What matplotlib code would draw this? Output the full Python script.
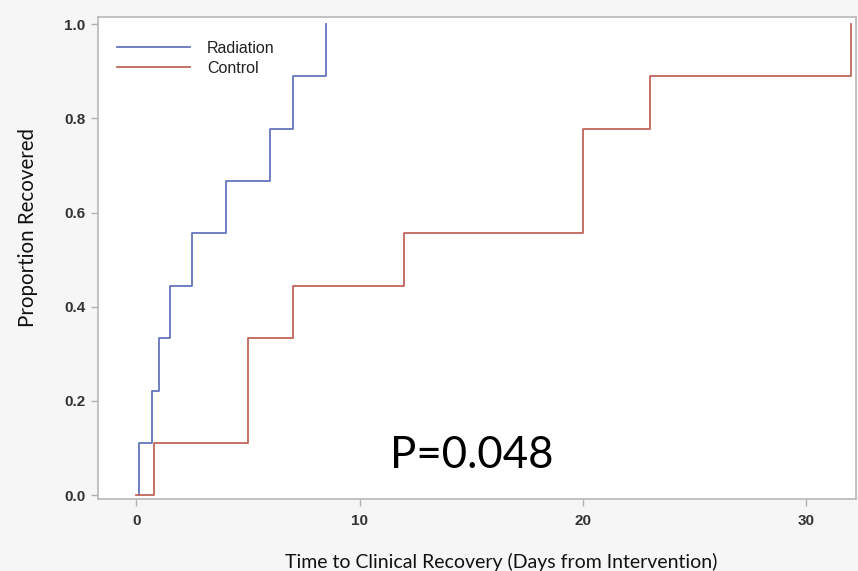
import matplotlib
matplotlib.use("Agg")
import matplotlib.pyplot as plt
import numpy as np

# Data (Kaplan-Meier style step curves, proportion recovered)
rad_times = [0.1, 0.1, 0.7, 1.0, 1.5, 2.5, 4.0, 6.0, 7.0, 8.5]
rad_props = [0, 1/9, 2/9, 3/9, 4/9, 5/9, 6/9, 7/9, 8/9, 1.0]
ctl_times = [0.0, 0.8, 5.0, 7.0, 12.0, 20.0, 23.0, 32.0]
ctl_props = [0, 1/9, 3/9, 4/9, 5/9, 7/9, 8/9, 1.0]
xticks = [0, 10, 20, 30]
yticks = [0.0, 0.2, 0.4, 0.6, 0.8, 1.0]

W, H = 858, 571
fig = plt.figure(figsize=(W/100, H/100), dpi=100, facecolor="#f6f6f6")
ax = fig.add_axes([98/W, 1-499/H, (856-98)/W, (499-17)/H])
ax.set_facecolor("white")

blue = "#6475bd"
red = "#c0645a"
ax.step(rad_times, rad_props, where="post", color=blue, lw=1.3, label="Radiation")
ax.step(ctl_times, ctl_props, where="post", color=red, lw=1.3, label="Control")

ax.set_xlim(-1.72, 32.22)
ax.set_ylim(-0.008, 1.015)
ax.set_xticks(xticks)
ax.set_yticks(yticks)
ax.set_xticklabels([str(t) for t in xticks])
ax.set_yticklabels([f"{t:.1f}" for t in yticks])

for s in ax.spines.values():
    s.set_color("#b8b8b8")
    s.set_linewidth(1.2)
ax.tick_params(axis="both", colors="#b0b0b0", length=5, width=1, labelcolor="#333333",
               labelsize=11)
for lab in ax.get_xticklabels() + ax.get_yticklabels():
    lab.set_fontweight("bold")
    lab.set_family("Liberation Sans")
ax.tick_params(axis="x", pad=6)
ax.tick_params(axis="y", pad=4)

leg = ax.legend(loc="upper left", bbox_to_anchor=((117-98)/758, (499-41)/482), frameon=False,
                borderaxespad=0, borderpad=0,
                handlelength=4.6, handletextpad=1.05, labelspacing=0.3,
                prop={"family": "Liberation Sans", "size": 11.5})
for t in leg.get_texts():
    t.set_color("#222222")

fig.text(28/W, 1-228/H, "Proportion Recovered", family="Lato", fontsize=14.8,
         color="#111111", rotation=90, ha="center", va="center")
fig.text(501/W, 1-562/H, "Time to Clinical Recovery (Days from Intervention)", family="Lato",
         fontsize=14, color="#111111", ha="center", va="center")

fig.text(472/W, 1-456/H, "P=0.048", family="Lato", fontsize=31.5,
         color="black", ha="center", va="center")

fig.savefig("out.png", dpi=100, facecolor=fig.get_facecolor())
